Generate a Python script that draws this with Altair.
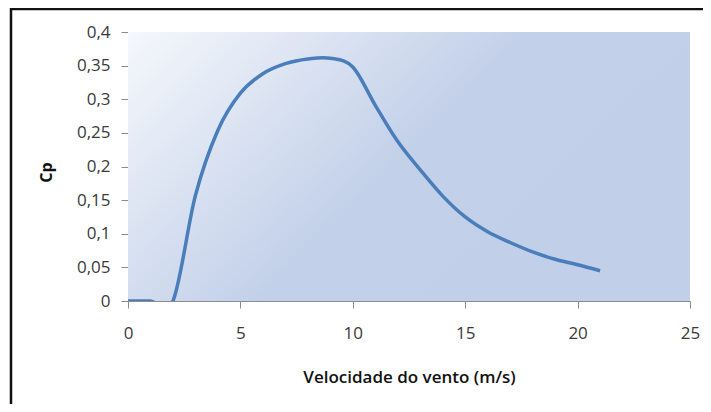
import altair as alt
import pandas as pd

# Wind speed (m/s) and power coefficient Cp
velocidade = [0, 1, 2, 3, 4, 5, 6, 7, 8, 9, 10, 11, 12, 13, 14, 15, 16, 17, 18, 19, 20, 21]
cp = [0.0, 0.0, 0.0, 0.157, 0.254, 0.309, 0.338, 0.353, 0.360, 0.361, 0.348, 0.291,
      0.237, 0.195, 0.156, 0.125, 0.103, 0.087, 0.073, 0.062, 0.054, 0.045]

x_ticks = [0, 5, 10, 15, 20, 25]
y_ticks = [0, 0.05, 0.1, 0.15, 0.2, 0.25, 0.3, 0.35, 0.4]

df = pd.DataFrame({"v": velocidade, "cp": cp})

W, H = 562, 269

gradient = alt.LinearGradient(
    gradient="linear",
    x1=0, y1=0, x2=1, y2=0.49,
    stops=[
        alt.GradientStop(offset=0, color="#f5f8fc"),
        alt.GradientStop(offset=0.3, color="#dbe3f2"),
        alt.GradientStop(offset=0.58, color="#c2d0e9"),
        alt.GradientStop(offset=1, color="#c1cfe8"),
    ],
)

one_row = alt.Data(values=[{"a": 1}])

background = alt.Chart(one_row).mark_rect(fill=gradient, stroke=None).encode(
    x=alt.value(0), x2=alt.value(W), y=alt.value(0), y2=alt.value(H),
)

line = alt.Chart(df).mark_line(
    color="#4a7ebb", strokeWidth=3.5, interpolate="cardinal", tension=0, clip=True
).encode(
    x=alt.X("v:Q",
            scale=alt.Scale(domain=[0, 25], nice=False),
            axis=alt.Axis(values=x_ticks, title="Velocidade do vento (m/s)",
                          labelPadding=17, labelFlush=False,
                          titleY=76, titleBaseline="middle",
                          titleFontWeight=600, titleColor="#111111",
                          titleFontSize=17)),
    y=alt.Y("cp:Q",
            scale=alt.Scale(domain=[0, 0.4], nice=False),
            axis=alt.Axis(values=y_ticks, format=".2~f",
                          labelExpr="replace(datum.label, '.', ',')",
                          title="Cp", labelPadding=11, labelFlush=False,
                          titleX=-82, titleY=140, titleBaseline="middle",
                          titleFontWeight="bold", titleColor="#111111",
                          titleFontSize=16)),
)

frame = alt.Chart(one_row).mark_rect(
    fill=None, stroke="#111111", strokeWidth=2.5, clip=False
).encode(
    x=alt.value(-117), x2=alt.value(W + 60),
    y=alt.value(-23), y2=alt.value(H + 140),
)

chart = alt.layer(background, line, frame).properties(
    width=W, height=H,
    autosize=alt.AutoSizeParams(type="none"),
    padding={"left": 120, "top": 24, "right": 13, "bottom": 103},
    background="#ffffff",
).configure_view(
    stroke=None,
).configure_axis(
    grid=False,
    domainColor="#8c8c8c",
    tickColor="#8c8c8c",
    tickSize=7,
    labelColor="#3a3a3a",
    labelFont="Open Sans",
    labelFontSize=17,
    labelOverlap=False,
    titleFont="Open Sans",
)

chart.save("out.html", embed_options={"renderer": "svg", "actions": False})
